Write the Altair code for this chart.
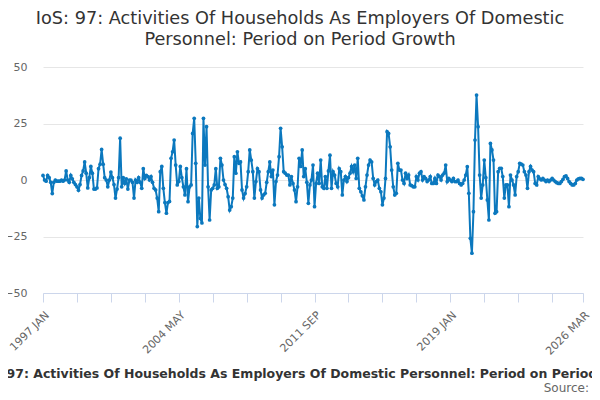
import altair as alt
import pandas as pd

# Monthly period-on-period growth (%), 1997 JAN .. 2026 MAR
seg_1997_2001 = [2, 0, -0.5, 2, 1, -1, -6, -1, 0, -0.5,
                 -0.5, -0.5, 0, -0.5, 0, 4, 0, -1, 2, 0.5,
                 -1, -2, -3, -4.5, -2, 2, 4, 8, 3, -3.5,
                 1, 6, 3, -4, -4, -3.5, 5, 7, 13.5, 7,
                 1, 0, -3, 0, 3.5, 1, -2, -8, -4, 1,
                 18.5, -3, 1, -1.5, 0.5, -4, 0, 0, -1, -8]
seg_2002_2006 = [0, -1, 1, -1, -3.7, 5, 0.7, 2, 1.5, 0,
                 1.5, -1, -3.7, -4.4, -8, -14, 3.7, 6, -3.7, -10,
                 -14.7, -10, -9.5, 9.6, 12.5, 17.7, 6.6, -2.2, -0.7, 6,
                 1, -3, -6.6, 5, -9.6, -3, -2.2, 20.6, 27.3, 7.4,
                 -20.6, -8, -17, -19, 27.3, 6.6, 23.6, -3, -17.7, -4.4,
                 -3.7, -2.2, 5, -3.7, -3, 9.6, 6.6, 0]
seg_2006_2011 = [-2, -3.7, -7.4, -13.3, -11.8, -8, 10.3, 3, 12.5, 7.4,
                 8, -4.4, -8, -6, -3, 3.7, 13.3, 8.8, 3.7, -8,
                 -0.7, 5, 3.7, -4.4, -8, -6.6, -5.9, -1, 3.7, 8,
                 1.5, 4.4, -11, -0.7, 2.2, 10.3, 22.9, 14.7, 3.7, 3,
                 2.2, 2.2, -2.2, 1.5, -1.5, -4.4, -9.6, -3, 9.6, 6,
                 13.3, 1.5, 5, -1, -10.3, -2.2, 0, 6.6, -11.8]
seg_2011_2016 = [-1.5, 3, -1.5, 8.8, -3, -3.7, 1.5, -3.7, 4, 11,
                 -3.7, 3.7, 2.2, -1.5, -3, 5, 3.7, -6.6, 0, 1.5,
                 -0.7, 1, 3, 6, 3.7, 6.6, 0.7, 9.6, -3.7, -5.2,
                 -7, -8.8, -3, 2.2, 6.6, 8.8, 8, 0.7, -2.2, -0.7,
                 0, -3.7, -5.2, -11, -8, 0.7, 21.4, 20.6, 14.7, 4.4,
                 -3, -6.6, -5.9, 7.4, 4.4, 4.4, 0, -1.5]
seg_2016_2021 = [3, 0.7, 2.2, -2.2, -2.5, -3, -3, 1.5, 0, 3,
                 3.7, 0, 1.5, 0.7, -0.7, 0, 1.5, -1.5, -1.5, 0.7,
                 -1.5, 2.2, 1.5, 0, 2.2, 3, 6.6, -0.7, 0.7, 0,
                 -0.7, 0.7, -0.7, -0.7, 0, -1.5, -2.2, -1.5, 0, 2.2,
                 5.9, -5.9, -25.8, -32.4, -14, 17.7, 37.6, 23.6, 2.2, -8,
                 -2.2, 8.8, 1, -8.8, -17.7, 16.2, 13.3, 8.8]
seg_2021_2026 = [-14.7, -14, 3.7, 5.2, 5.2, 1.5, -8, -2.2, -2.2, -11.8,
                 2.2, 0, -2.2, -6.6, 1.5, 3.7, 7.4, 7, 6.6, 3.7,
                 2.2, -3.7, 3.7, 6, 4.4, 3.7, -1.5, -2.2, 1.5, 0.5,
                 0, 0.7, 0, -0.7, 0, -0.7, 0, 0.7, 0, -0.7,
                 -1.2, -1.5, -1.5, -0.7, 0.3, 1.5, 1.8, 0.7, -0.7, -1.5,
                 -2.2, -2.2, -1.5, 0, 0.5, 0.7, 0.7, 0.3]

values = (seg_1997_2001 + seg_2002_2006 + seg_2006_2011 +
          seg_2011_2016 + seg_2016_2021 + seg_2021_2026)

month_names = ["JAN", "FEB", "MAR", "APR", "MAY", "JUN",
               "JUL", "AUG", "SEP", "OCT", "NOV", "DEC"]
periods = [f"{1997 + i // 12} {month_names[i % 12]}" for i in range(len(values))]

tick_positions = list(range(0, 331, 22)) + [len(values) - 1]
label_positions = [0, 88, 176, 264, len(values) - 1]

df = pd.DataFrame({"idx": list(range(len(values))), "value": values, "period": periods})

label_expr = " : ".join(
    f"datum.value == {p} ? '{periods[p]}'" for p in label_positions
) + " : ''"

COLOR = "#0b78be"
FONT = "DejaVu Sans"

bottom_title = "97: Activities Of Households As Employers Of Domestic Personnel: Period on Period Growth"

line = alt.Chart(df).mark_line(
    color=COLOR, strokeWidth=2,
    point=alt.OverlayMarkDef(filled=True, size=14, color=COLOR)
).encode(
    x=alt.X("idx:Q",
            scale=alt.Scale(domain=[0, len(values) - 1], nice=False, zero=False),
            axis=alt.Axis(values=tick_positions, labelExpr=label_expr,
                          labelAngle=-45, labelAlign="right", labelBaseline="top",
                          labelOverlap=False, labelFlush=False, labelPadding=7,
                          tickSize=9, tickColor="#ccd6eb", domainColor="#ccd6eb",
                          grid=False, labelColor="#666666", labelFontSize=11,
                          labelFont=FONT,
                          title=bottom_title, titleAnchor="start", titleAlign="left",
                          titleX=-37, titleY=84, titleBaseline="alphabetic",
                          titleFont=FONT, titleFontSize=12.5, titleFontWeight="bold",
                          titleColor="#333333")),
    y=alt.Y("value:Q",
            scale=alt.Scale(domain=[-50, 50], nice=False),
            axis=alt.Axis(values=[-50, -25, 0, 25, 50], domain=False, ticks=False,
                          gridColor="#e6e6e6", labelColor="#666666", labelPadding=16,
                          labelFontSize=11, labelFont=FONT, title=None)),
    tooltip=["period:N", "value:Q"]
)

source = alt.Chart(pd.DataFrame({"t": ["Source:"]})).mark_text(
    align="right", baseline="alphabetic", font=FONT, fontSize=12, color="#666666"
).encode(x=alt.value(546), y=alt.value(325), text="t:N")

chart = alt.layer(line, source).properties(
    width=540, height=226,
    title=alt.TitleParams(
        text=["IoS: 97: Activities Of Households As Employers Of Domestic",
              "Personnel: Period on Period Growth"],
        font=FONT, fontSize=17.7, fontWeight="normal", color="#333333",
        anchor="middle", frame="group", dx=-13, offset=12, lineHeight=21),
    autosize=alt.AutoSizeParams(type="none"),
    padding={"left": 35, "top": 59, "right": 9, "bottom": 104},
).configure_view(stroke=None)

chart.save("out.html", embed_options={"renderer": "svg", "actions": False})
